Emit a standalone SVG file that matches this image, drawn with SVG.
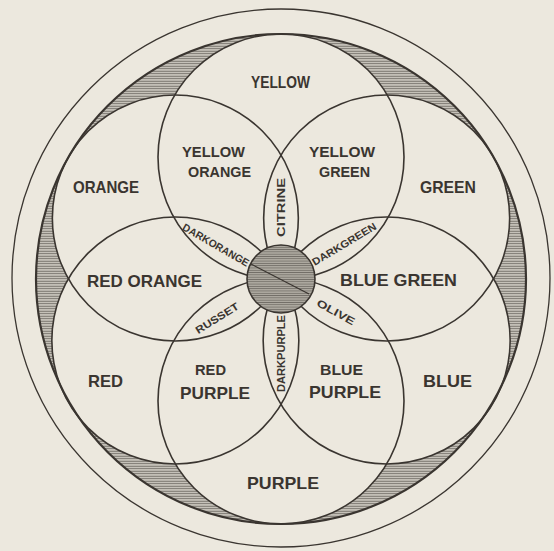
<svg xmlns="http://www.w3.org/2000/svg" width="554" height="551" viewBox="0 0 554 551">
<defs>
<pattern id="hatch" patternUnits="userSpaceOnUse" width="8" height="2.5">
<rect width="8" height="2.5" fill="#cfcbc2"/>
<rect y="0.7" width="8" height="1" fill="#6f6b64"/>
</pattern>
<pattern id="hatch-dark" patternUnits="userSpaceOnUse" width="8" height="2.3">
<rect width="8" height="2.3" fill="#bdb9b0"/>
<rect y="0.6" width="8" height="1.1" fill="#6f6b64"/>
</pattern>
<circle id="c-yellow" cx="281" cy="157" r="123"/>
<circle id="c-green" cx="386.66" cy="218" r="123"/>
<circle id="c-blue" cx="386.66" cy="340.5" r="123.5"/>
<circle id="c-purple" cx="281" cy="401" r="123"/>
<circle id="c-red" cx="175.34" cy="340.5" r="123.5"/>
<circle id="c-orange" cx="175.34" cy="218" r="123"/>
<style>
.ink{fill:none;stroke:#3a3530}
.ring{stroke-width:1.3}
.big{stroke-width:2.2}
.petal{stroke-width:1.6}
.paper{fill:#ece8de;stroke:none}
text{font-family:"Liberation Sans",Arial,sans-serif;fill:#3a3530;text-anchor:middle}
.lg{font-size:16.5px;font-weight:bold}
.md{font-size:14.5px;font-weight:bold}
.sm{font-size:10.5px;font-weight:bold}
</style>
</defs>
<rect width="554" height="551" fill="#ece8de"/>
<g id="outer-ring"><circle cx="281" cy="278" r="269" class="ink ring"/></g>
<g id="crescents">
<circle cx="281" cy="279" r="245" fill="url(#hatch)"/>
<use href="#c-yellow" class="paper"/>
<use href="#c-green" class="paper"/>
<use href="#c-blue" class="paper"/>
<use href="#c-purple" class="paper"/>
<use href="#c-red" class="paper"/>
<use href="#c-orange" class="paper"/>
</g>
<g id="circle-yellow"><use href="#c-yellow" class="ink petal"/></g>
<g id="circle-green"><use href="#c-green" class="ink petal"/></g>
<g id="circle-blue"><use href="#c-blue" class="ink petal"/></g>
<g id="circle-purple"><use href="#c-purple" class="ink petal"/></g>
<g id="circle-red"><use href="#c-red" class="ink petal"/></g>
<g id="circle-orange"><use href="#c-orange" class="ink petal"/></g>
<g id="boundary"><circle cx="281" cy="279" r="245" class="ink big"/></g>
<g id="centre">
<circle cx="281" cy="279" r="34" fill="url(#hatch-dark)" stroke="#3a3530" stroke-width="1.6"/>
<line x1="251" y1="264" x2="309" y2="294" stroke="#3a3530" stroke-width="1.2"/>
</g>
<g id="labels">
<text class="lg" x="280.5" y="88" textLength="59" lengthAdjust="spacingAndGlyphs">YELLOW</text>
<text class="md" x="213.5" y="157" textLength="63" lengthAdjust="spacingAndGlyphs">YELLOW</text>
<text class="md" x="219.5" y="177" textLength="63" lengthAdjust="spacingAndGlyphs">ORANGE</text>
<text class="md" x="342" y="157" textLength="66" lengthAdjust="spacingAndGlyphs">YELLOW</text>
<text class="md" x="344.5" y="177" textLength="51" lengthAdjust="spacingAndGlyphs">GREEN</text>
<text class="lg" x="106" y="193" textLength="66" lengthAdjust="spacingAndGlyphs">ORANGE</text>
<text class="lg" x="448" y="193" textLength="56" lengthAdjust="spacingAndGlyphs">GREEN</text>
<text class="lg" x="144.5" y="287" textLength="115" lengthAdjust="spacingAndGlyphs">RED ORANGE</text>
<text class="lg" x="398.5" y="286" textLength="117" lengthAdjust="spacingAndGlyphs">BLUE GREEN</text>
<text class="lg" x="105.5" y="387" textLength="35" lengthAdjust="spacingAndGlyphs">RED</text>
<text class="lg" x="447.5" y="387" textLength="49" lengthAdjust="spacingAndGlyphs">BLUE</text>
<text class="md" x="210.5" y="375" textLength="31" lengthAdjust="spacingAndGlyphs">RED</text>
<text class="lg" x="215" y="399" textLength="70" lengthAdjust="spacingAndGlyphs">PURPLE</text>
<text class="md" x="341.5" y="375" textLength="43" lengthAdjust="spacingAndGlyphs">BLUE</text>
<text class="lg" x="345" y="398" textLength="72" lengthAdjust="spacingAndGlyphs">PURPLE</text>
<text class="lg" x="283" y="489" textLength="72" lengthAdjust="spacingAndGlyphs">PURPLE</text>
<text class="sm" transform="translate(281 207.5) rotate(-90)" y="3.8" textLength="59" lengthAdjust="spacingAndGlyphs">CITRINE</text>
<text class="sm" transform="translate(281.5 353.5) rotate(-90)" y="3.8" textLength="77" lengthAdjust="spacingAndGlyphs">DARKPURPLE</text>
<text class="sm" transform="translate(216 245) rotate(30)" y="3.8" textLength="75" lengthAdjust="spacingAndGlyphs">DARKORANGE</text>
<text class="sm" transform="translate(344 244) rotate(-31)" y="3.8" textLength="73" lengthAdjust="spacingAndGlyphs">DARKGREEN</text>
<text class="sm" transform="translate(217 318) rotate(-32)" y="3.8" textLength="49" lengthAdjust="spacingAndGlyphs">RUSSET</text>
<text class="sm" transform="translate(336 312) rotate(29)" y="3.8" textLength="42" lengthAdjust="spacingAndGlyphs">OLIVE</text>
</g>
</svg>
